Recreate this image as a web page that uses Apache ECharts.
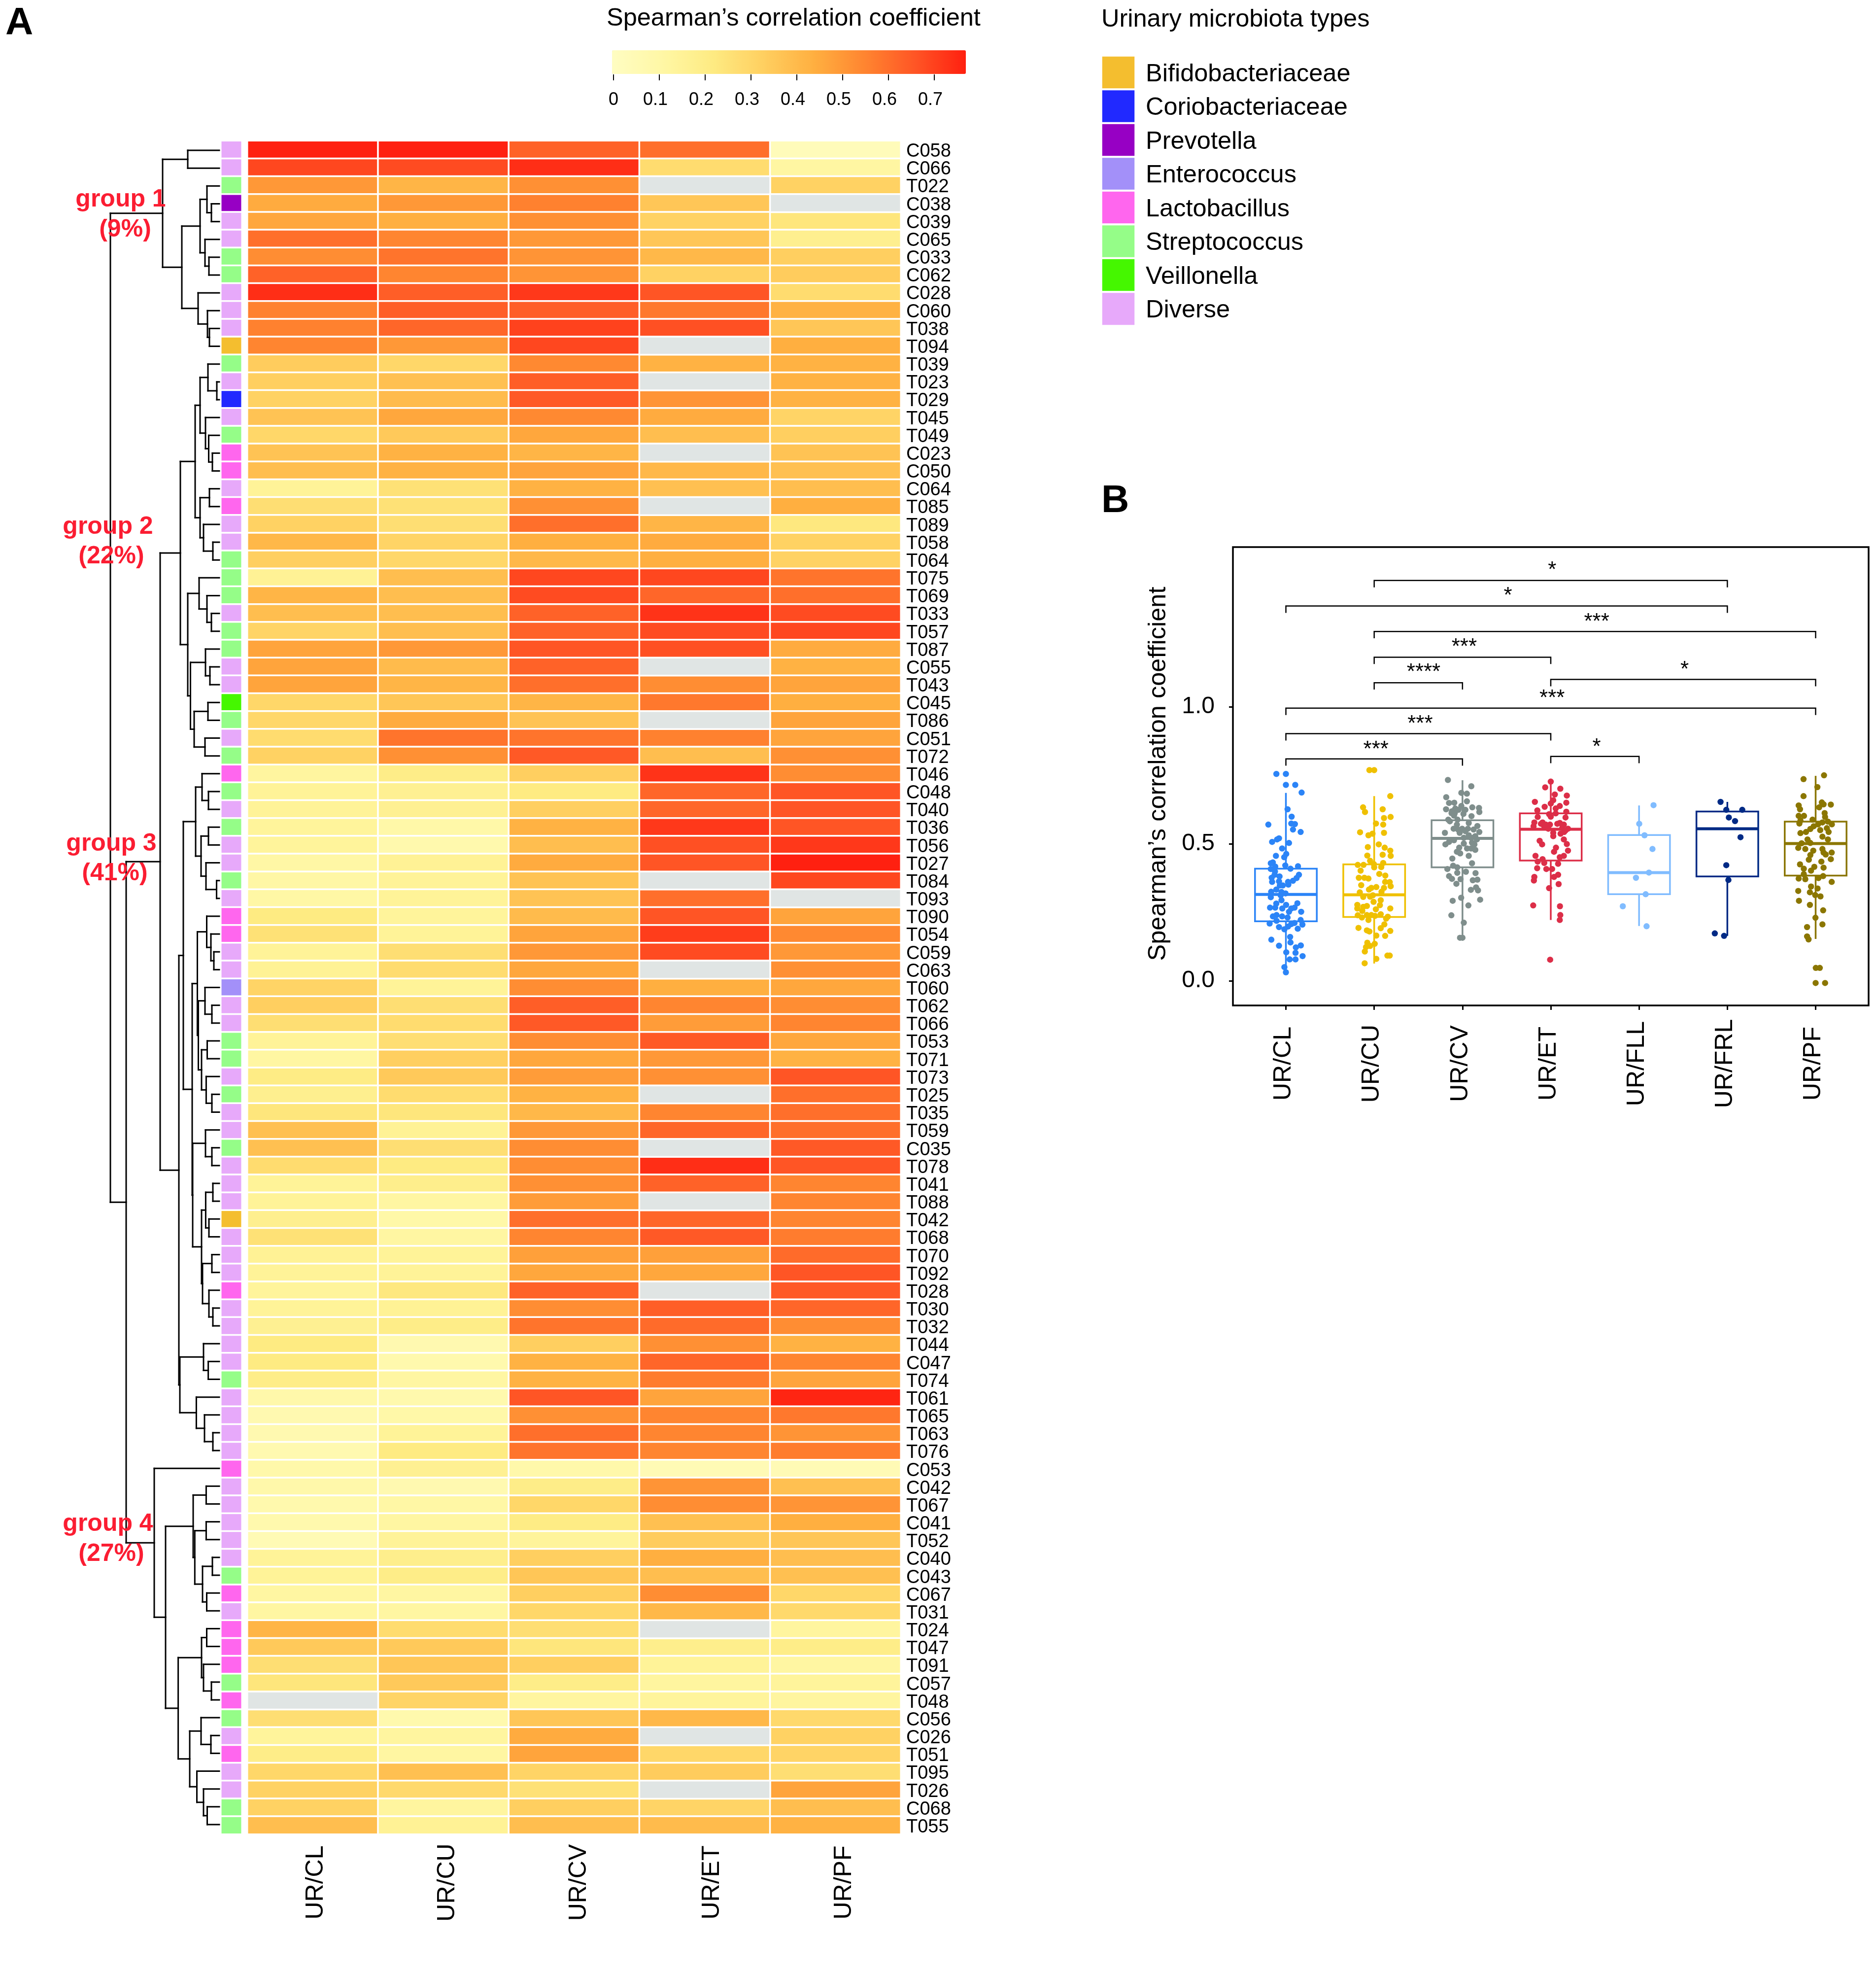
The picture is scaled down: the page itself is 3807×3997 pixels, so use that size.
<!DOCTYPE html>
<html><head><meta charset="utf-8">
<style>html,body{margin:0;padding:0;background:#fff}#c{width:3807px;height:3997px}</style>
<script src="https://cdn.jsdelivr.net/npm/echarts@6/dist/echarts.min.js"></script>
</head><body><div id="c"></div>
<script>
const rowLabels=['C058','C066','T022','C038','C039','C065','C033','C062','C028','C060','T038','T094','T039','T023','T029','T045','T049','C023','C050','C064','T085','T089','T058','T064','T075','T069','T033','T057','T087','C055','T043','C045','T086','C051','T072','T046','C048','T040','T036','T056','T027','T084','T093','T090','T054','C059','C063','T060','T062','T066','T053','T071','T073','T025','T035','T059','C035','T078','T041','T088','T042','T068','T070','T092','T028','T030','T032','T044','C047','T074','T061','T065','T063','T076','C053','C042','T067','C041','T052','C040','C043','C067','T031','T024','T047','T091','C057','T048','C056','C026','T051','T095','T026','C068','T055'];
const heatColumns=['UR/CL','UR/CU','UR/CV','UR/ET','UR/PF'];
const urCL=[.77,.69,.50,.45,.46,.60,.53,.63,.74,.56,.56,.55,.34,.33,.32,.37,.30,.37,.39,.15,.27,.32,.41,.33,.16,.42,.39,.31,.47,.47,.47,.30,.30,.28,.32,.13,.15,.15,.14,.14,.11,.11,.11,.22,.26,.15,.16,.31,.33,.27,.15,.12,.21,.18,.24,.38,.38,.28,.15,.15,.18,.26,.16,.15,.14,.15,.17,.22,.22,.20,.09,.07,.07,.07,.09,.09,.08,.08,.05,.15,.15,.12,.12,.42,.35,.27,.24,null,.27,.14,.20,.30,.32,.32,.39];
const urCU=[.77,.68,.42,.50,.44,.55,.59,.55,.64,.64,.62,.50,.30,.38,.40,.46,.35,.43,.43,.26,.26,.27,.31,.30,.39,.39,.39,.39,.50,.40,.42,.36,.45,.59,.52,.20,.17,.17,.10,.08,.16,.15,.15,.14,.15,.27,.28,.15,.27,.28,.27,.33,.35,.28,.24,.16,.27,.22,.19,.12,.10,.12,.15,.15,.23,.16,.20,.07,.08,.12,.08,.10,.15,.22,.17,.07,.11,.12,.15,.19,.20,.12,.12,.28,.35,.36,.35,.31,.08,.13,.12,.38,.29,.13,.16];
const urCV=[.63,.74,.52,.56,.52,.50,.51,.51,.72,.64,.70,.69,.54,.64,.65,.54,.46,.42,.47,.43,.52,.60,.44,.41,.69,.68,.63,.63,.66,.63,.60,.42,.37,.59,.65,.33,.22,.33,.43,.39,.45,.37,.37,.40,.47,.50,.46,.53,.64,.65,.53,.46,.49,.43,.41,.50,.53,.53,.52,.49,.60,.55,.48,.46,.63,.53,.59,.33,.43,.43,.66,.52,.60,.59,.09,.20,.30,.21,.14,.33,.36,.33,.30,.27,.24,.33,.20,.13,.36,.45,.47,.31,.26,.33,.39];
const urET=[.60,.28,null,.36,.32,.36,.41,.32,.66,.58,.67,null,.43,null,.51,.45,.39,null,.41,.38,null,.42,.45,.44,.69,.62,.73,.68,.67,null,.53,.58,null,.56,.39,.73,.62,.62,.72,.67,.66,null,.60,.66,.71,.68,null,.44,.55,.49,.65,.50,.52,null,.55,.62,null,.74,.63,null,.62,.65,.48,.46,null,.64,.61,.52,.62,.57,.47,.55,.55,.55,.05,.51,.53,.38,.34,.44,.39,.53,.41,null,.19,.15,.13,.14,.41,null,.30,.34,null,.31,.40];
const urPF=[.03,.12,.32,null,.24,.18,.33,.34,.28,.43,.36,.44,.43,.43,.43,.31,.33,.37,.38,.39,.44,.23,.32,.32,.59,.60,.68,.69,.45,.43,.47,.44,.47,.47,.52,.53,.66,.66,.66,.72,.77,.69,null,.47,.54,.50,.52,.46,.53,.55,.46,.43,.66,.60,.60,.60,.65,.66,.55,.55,.55,.57,.61,.66,.65,.62,.53,.43,.55,.47,.76,.58,.51,.57,.05,.38,.51,.44,.36,.39,.38,.30,.29,.13,.20,.12,.14,.13,.29,.32,.31,.27,.47,.39,.43];
const typeNames=['Bifidobacteriaceae','Coriobacteriaceae','Prevotella','Enterococcus','Lactobacillus','Streptococcus','Veillonella','Diverse'];
const typeColors=['#F4BE2F','#2129FF','#9700C4','#A390F9','#FF66EE','#95FD88','#45F700','#E7A9FA'];
const rowTypes=[7,7,5,2,7,7,5,5,7,7,7,0,5,7,1,7,5,4,4,7,4,7,7,5,5,5,7,5,5,7,7,6,5,7,5,4,5,7,5,7,7,5,7,4,4,7,7,3,7,7,5,5,7,5,7,7,5,7,7,7,0,7,7,7,4,7,7,7,7,5,7,7,7,7,4,7,7,7,7,7,5,4,7,4,4,4,5,4,5,7,4,7,7,5,5];
const heatRamp=['#FFFDC2','#FFF7A5','#FEEB82','#FFCF60','#FFAF40','#FF8530','#FF5525','#FF2010'];
const naColor='#E0E5E4';

// dendrogram merges: [height, left, right], L is a leaf, leaves run in row order
const L=0;
const clusterG1=[115,[64,L,L],[76,[39,[25,L,[16,L,L]],[29,L,[21,L,L]]],[43,L,[24,L,[20,L,L]]]]];
const clusterG2=[79,[49,[39,[23,L,[5,L,L]],[28,L,[21.5,L,[14,L,L]]]],[39,[20,L,L],[32,L,[13,L,L]]]],[64,[41,L,[25,L,[16,L,L]]],[58.5,[28,L,[19,L,L]],[51,[23,L,L],[29,L,L]]]]];
const clusterG3a=[48,[35,L,[22,L,L]],[37,[22,L,L],[27,L,[5.5,L,L]]]];
const clusterG3b=[44.5,[25.5,L,[17,L,[11,L,L]]],[42.5,[29,L,[15,L,L]],[36,[24.5,L,L],[26.6,L,[15,L,L]]]]];
const clusterG3c=[54,[28,L,[15,L,L]],[36,[27.6,[13,L,L],[21,L,L]],[34,[15,L,L],[21,L,[13,L,L]]]]];
const clusterG3d=[80,[32,L,[22.4,L,L]],[46.6,L,[30,L,[13,L,L]]]];
const clusterG3=[82,[73,clusterG3a,[55,clusterG3b,clusterG3c]],clusterG3d];
const clusterG4=[132,L,[109,[53,[26.6,L,L],[49.7,[26.6,L,L],[34,[14,L,L],[25.5,L,L]]]],[83.4,[36,[25.5,L,L],[32,L,[16,L,L]]],[60,[37,L,[17,L,L]],[45.5,L,[32,L,[24.5,L,L]]]]]]];
const clusterRoot=[221,clusterG1,[189,[120,clusterG2,clusterG3],clusterG4]];

// panel B
const boxCategories=['UR/CL','UR/CU','UR/CV','UR/ET','UR/FLL','UR/FRL','UR/PF'];
const boxColors=['#2B84F7','#EFC000','#7F8E8C','#DC2E48','#80BCFF','#002A85','#8B7600'];
// low, q1, median, q3, high
const boxStats=[[.03,.217,.315,.409,.686],[.063,.233,.314,.425,.674],[.151,.414,.52,.586,.732],[.222,.439,.553,.611,.73],[.2,.316,.395,.532,.64],[.164,.381,.555,.618,.653],[.153,.384,.501,.581,.748]];
const ptsCL=[[-.108,.755],[0,.755],[0,.715],[.106,.715],[.178,.687],[.019,.626],[.065,.599],[-.199,.570],[.061,.574],[.102,.572],[.080,.552],[.167,.543],[-.078,.520],[-.100,.516],[-.156,.507],[.035,.503],[-.043,.483],[.004,.463],[-.113,.456],[-.019,.451],[-.171,.429],[-.148,.432],[-.007,.421],[.137,.418],[.052,.409],[-.121,.417],[-.171,.408],[-.124,.399],[-.128,.387],[-.161,.376],[-.072,.381],[-.156,.361],[.148,.387],[.121,.375],[.080,.365],[.024,.361],[.028,.351],[-.035,.348],[-.078,.363],[-.069,.348],[-.109,.333],[-.167,.325],[-.171,.305],[-.050,.324],[-.004,.319],[-.059,.312],[-.050,.294],[-.109,.282],[-.121,.267],[.002,.277],[-.041,.264],[-.180,.267],[.130,.283],[.098,.267],[.061,.264],[.035,.252],[.173,.252],[-.147,.235],[-.106,.240],[-.043,.235],[.019,.231],[-.106,.219],[-.184,.209],[.167,.222],[.187,.205],[.098,.211],[.061,.207],[.024,.198],[-.078,.196],[-.017,.188],[.134,.190],[.048,.160],[-.165,.150],[.052,.140],[-.078,.128],[.169,.129],[.113,.122],[.004,.104],[.109,.102],[.043,.078],[.109,.078],[.189,.090],[-.017,.050],[0,.031]];
const ptsCU=[[-.054,.769],[0,.769],[.182,.674],[-.126,.633],[-.104,.616],[.096,.626],[.111,.594],[.186,.598],[.020,.574],[.102,.570],[-.160,.542],[.111,.540],[-.019,.537],[-.065,.531],[.052,.498],[-.072,.488],[.119,.486],[.182,.475],[-.078,.457],[.096,.460],[.187,.456],[-.046,.438],[-.186,.423],[-.121,.423],[-.004,.426],[.102,.430],[.080,.415],[0,.414],[-.154,.402],[.058,.390],[.126,.384],[-.174,.376],[-.111,.376],[-.065,.373],[.124,.361],[.176,.360],[-.147,.349],[.024,.342],[.187,.345],[-.032,.339],[-.059,.333],[.111,.339],[.083,.325],[-.163,.323],[-.124,.306],[-.046,.307],[-.015,.312],[.074,.294],[-.007,.288],[.065,.276],[-.191,.277],[-.191,.264],[-.124,.270],[-.083,.273],[-.135,.255],[.019,.261],[.182,.264],[.074,.243],[-.186,.239],[-.139,.231],[-.083,.240],[-.032,.240],[-.065,.222],[.009,.237],[.154,.234],[.135,.227],[.115,.206],[-.178,.193],[.074,.192],[-.083,.184],[-.054,.180],[.182,.182],[.024,.165],[.124,.164],[-.078,.139],[.006,.135],[-.046,.127],[-.093,.123],[-.106,.107],[.024,.080],[.150,.092],[.176,.092],[-.108,.064]];
const ptsCV=[[-.165,.733],[.100,.710],[-.013,.686],[.050,.683],[-.184,.670],[.050,.655],[-.152,.649],[-.093,.650],[-.013,.638],[.111,.633],[.187,.631],[.191,.616],[-.186,.626],[-.119,.619],[-.082,.629],[-.045,.624],[.033,.624],[.011,.609],[-.096,.603],[.102,.601],[-.161,.588],[-.056,.588],[-.143,.582],[.071,.576],[-.063,.570],[.169,.565],[-.100,.555],[-.004,.555],[.061,.555],[-.032,.540],[-.199,.540],[.126,.552],[.191,.543],[.071,.531],[.145,.528],[-.096,.513],[-.152,.507],[-.193,.498],[.015,.501],[.163,.516],[.108,.504],[-.037,.486],[.052,.483],[.145,.478],[.098,.483],[-.063,.471],[-.026,.465],[.071,.456],[-.115,.446],[.108,.429],[-.106,.420],[-.059,.414],[-.171,.408],[-.059,.394],[.039,.398],[.148,.393],[-.152,.382],[-.119,.372],[.117,.367],[.169,.369],[-.022,.371],[-.069,.354],[.154,.341],[.095,.332],[.176,.330],[-.015,.303],[-.111,.292],[.200,.296],[.067,.275],[-.126,.239],[.015,.212],[-.028,.157],[0,.157],[-.087,.612],[-.124,.612],[-.050,.552],[.033,.546],[.098,.522],[.015,.522],[.135,.498]];
const ptsET=[[0,.727],[-.063,.706],[.108,.701],[.046,.680],[.182,.676],[.028,.659],[-.180,.653],[.176,.650],[0,.647],[-.069,.635],[.102,.638],[.056,.629],[-.152,.622],[.176,.617],[-.019,.608],[.056,.611],[.167,.596],[-.148,.598],[0,.599],[-.186,.578],[-.093,.578],[.102,.576],[-.195,.564],[-.074,.564],[-.009,.570],[.148,.570],[-.028,.555],[.195,.555],[.028,.540],[.111,.537],[.152,.543],[.028,.528],[-.126,.511],[-.098,.498],[.148,.516],[.182,.499],[.059,.486],[.037,.471],[.195,.475],[-.173,.456],[.102,.451],[.148,.456],[-.093,.444],[-.148,.435],[-.074,.430],[.083,.427],[-.154,.411],[-.050,.408],[.015,.408],[.083,.387],[.037,.379],[-.186,.379],[-.191,.366],[.089,.353],[-.019,.338],[-.199,.275],[.104,.272],[.108,.240],[.102,.222],[-.007,.077],[-.111,.573],[-.056,.570],[.130,.558],[.167,.549],[.074,.573]];
const ptsFLL=[[.164,.641],[.002,.573],[.062,.531],[.152,.481],[.112,.395],[-.035,.376],[.075,.316],[-.184,.272],[.085,.199]];
const ptsFRL=[[-.077,.653],[-.012,.624],[.169,.624],[.017,.596],[.087,.583],[.149,.524],[-.012,.422],[.012,.368],[-.142,.173],[-.037,.164]];
const ptsPF=[[.095,.750],[-.137,.736],[.020,.707],[-.137,.674],[-.192,.640],[-.177,.626],[.070,.651],[.090,.644],[.172,.643],[.040,.633],[.102,.612],[-.192,.602],[-.132,.602],[.107,.598],[-.035,.588],[-.172,.585],[-.184,.574],[.077,.578],[.139,.581],[.184,.571],[.027,.571],[-.022,.564],[-.060,.554],[-.109,.543],[-.172,.539],[.052,.550],[.127,.557],[.147,.543],[.077,.526],[.139,.516],[-.092,.516],[-.060,.503],[-.159,.502],[-.197,.485],[-.117,.481],[-.027,.475],[.077,.481],[.182,.468],[.090,.468],[-.060,.459],[-.077,.442],[.114,.461],[.172,.444],[.065,.435],[-.177,.425],[.090,.413],[-.015,.416],[-.052,.402],[-.134,.409],[-.134,.389],[-.117,.371],[-.192,.373],[.032,.375],[.085,.382],[.182,.361],[-.052,.344],[.022,.337],[-.197,.328],[-.065,.323],[-.005,.313],[.055,.308],[-.189,.292],[-.065,.277],[.085,.257],[-.002,.230],[.077,.206],[-.097,.196],[-.097,.162],[-.080,.151],[.002,.047],[.047,.047],[0,-.008],[.107,-.008]];
const boxPoints=[ptsCL,ptsCU,ptsCV,ptsET,ptsFLL,ptsFRL,ptsPF];
// significance brackets: from, to, height, label, label x, label y
const brackets=[[2,6,1.461,'*',4.015,1.513],[1,6,1.368,'*',3.515,1.419],[2,7,1.275,'***',4.52,1.325],[2,4,1.181,'***',3.02,1.233],[2,3,1.088,'****',2.56,1.140],[4,7,1.100,'*',5.515,1.149],[1,7,.995,'***',4.015,1.046],[1,4,.902,'***',2.52,.952],[1,3,.81,'***',2.02,.859],[4,5,.819,'*',4.52,.868]];
const boxTicks=[0,.5,1];

const FONT='"Liberation Sans"';
const heatCols=[urCL,urCU,urCV,urET,urPF];
const heatData=[],naData=[];
heatCols.forEach((col,x)=>col.forEach((v,y)=>{ if(v===null) naData.push([x,y,8]); else heatData.push([x,y,v]); }));
const stripData=rowTypes.map((t,y)=>[0,y,t]);
const swatchData=typeNames.map((n,y)=>[0,y,y]);
const dendroSegs=[];let leafNo=0;
(function walk(n){ if(n===L) return {h:0,y:leafNo++};
  const a=walk(n[1]),b=walk(n[2]),h=n[0];
  dendroSegs.push([h,a.y,h,b.y],[a.h,a.y,h,a.y],[b.h,b.y,h,b.y]);
  return {h,y:(a.y+b.y)/2}; })(clusterRoot);

function hiddenValue(o){return Object.assign({type:'value',show:false,splitLine:{show:false}},o);}
const labelRich=(size,padding)=>({formatter:v=>'{a|'+v+'}',rich:{a:{fontSize:size,fontFamily:FONT,color:'#000',padding}}});
const colRich=s=>({fontSize:50,fontFamily:FONT,color:'#000',padding:[s,0,0,0]});
const grids=[
 {left:502,top:285.5,width:1326,height:3436},
 {left:448,top:285.5,width:43,height:3436},
 {left:189,top:287,width:256,height:3433},
 {left:2235,top:113,width:69,height:548},
 {left:1245,top:150,width:651,height:1},
 {left:2502,top:1110,width:1290,height:930,show:true,borderColor:'#000',borderWidth:3.5,backgroundColor:'transparent'}
];
const xAxes=[
 {type:'category',gridIndex:0,data:heatColumns,position:'bottom',axisLine:{show:false},axisTick:{show:false},splitLine:{show:false},
  axisLabel:{rotate:90,align:'center',margin:98,formatter:(v,i)=>'{c'+i+'|'+v+'}',
   rich:{c0:colRich(14),c1:colRich(16),c2:colRich(20),c3:colRich(30),c4:colRich(36)}}},
 {type:'category',gridIndex:1,data:['type'],show:false},
 hiddenValue({gridIndex:2,min:0,max:256,inverse:true}),
 {type:'category',gridIndex:3,data:['type'],show:false},
 {type:'value',gridIndex:4,min:0,max:.7,interval:.1,position:'bottom',axisLine:{show:false,onZero:false},splitLine:{show:false},
  axisTick:{show:true,length:12,lineStyle:{color:'#000',width:2}},
  axisLabel:{margin:34,fontSize:36,fontFamily:FONT,color:'#000',padding:[0,16,0,0],
   formatter:v=>v===0?'{z|0}':String(+v.toFixed(1)),rich:{z:{padding:[0,0,0,16],fontSize:36,fontFamily:FONT,color:'#000'}}}},
 {type:'value',gridIndex:5,min:.4,max:7.6,position:'bottom',axisLine:{show:false,onZero:false},splitLine:{show:false},
  axisTick:{show:true,length:9,customValues:[1,2,3,4,5,6,7],lineStyle:{color:'#000',width:3}},
  axisLabel:{rotate:90,align:'center',margin:118,customValues:[1,2,3,4,5,6,7],formatter:v=>'{a|'+boxCategories[Math.round(v)-1]+'}',
   rich:{a:{fontSize:50,fontFamily:FONT,color:'#000',padding:[0,0,8,0]}}}}
];
const yAxes=[
 {type:'category',gridIndex:0,data:rowLabels,inverse:true,position:'right',axisLine:{show:false},axisTick:{show:false},splitLine:{show:false},
  axisLabel:Object.assign({interval:0,margin:11},labelRich(38,[8,0,0,0]))},
 {type:'category',gridIndex:1,data:rowLabels,inverse:true,show:false},
 hiddenValue({gridIndex:2,min:-.5,max:94.5,inverse:true}),
 {type:'category',gridIndex:3,data:typeNames,inverse:true,position:'right',axisLine:{show:false},axisTick:{show:false},splitLine:{show:false},
  axisLabel:Object.assign({interval:0,margin:21},labelRich(50.5,[7,0,0,0]))},
 hiddenValue({gridIndex:4,min:0,max:1}),
 {type:'value',gridIndex:5,min:-.09,max:1.583,position:'left',axisLine:{show:false},splitLine:{show:false},
  name:'Spearman\u2019s correlation coefficient',nameLocation:'middle',nameGap:125,nameTextStyle:{fontSize:50.5,fontFamily:FONT,color:'#000',padding:[0,0,0,10]},
  axisTick:{show:true,length:8,customValues:boxTicks,lineStyle:{color:'#000',width:3}},
  axisLabel:{margin:37,fontSize:48,fontFamily:FONT,color:'#000',customValues:boxTicks,formatter:v=>v.toFixed(1)}}
];
const cell={borderColor:'#fff',borderWidth:3.5};
const blackSeg=(p,api)=>{const a=api.coord([api.value(0),api.value(1)]),b=api.coord([api.value(2),api.value(3)]);
  return {type:'line',shape:{x1:a[0],y1:a[1],x2:b[0],y2:b[1]},style:{stroke:'#000',lineWidth:3,lineCap:'square'}};};
const series=[
 {type:'heatmap',xAxisIndex:0,yAxisIndex:0,data:heatData,itemStyle:cell,progressive:0,animation:false},
 {type:'heatmap',xAxisIndex:0,yAxisIndex:0,data:naData,itemStyle:cell,progressive:0,animation:false},
 {type:'heatmap',xAxisIndex:1,yAxisIndex:1,data:stripData,itemStyle:cell,progressive:0,animation:false},
 {type:'heatmap',xAxisIndex:3,yAxisIndex:3,data:swatchData,itemStyle:{borderColor:'#fff',borderWidth:4},progressive:0,animation:false},
 {type:'custom',xAxisIndex:2,yAxisIndex:2,data:dendroSegs,encode:{x:[0,2],y:[1,3]},renderItem:blackSeg,silent:true,clip:false,animation:false},
 {type:'custom',xAxisIndex:5,yAxisIndex:5,data:boxStats.map((s,i)=>[i+1,...s]),encode:{x:0,y:[1,5]},silent:true,animation:false,
  renderItem(p,api){
    const gx=api.value(0),c=boxColors[p.dataIndex],hw=.35;
    const P=(x,y)=>api.coord([x,y]);
    const [lo,q1,md,q3,hi]=[1,2,3,4,5].map(k=>api.value(k));
    const st={stroke:c,lineWidth:3.5,fill:null};
    const ln=(a,b,w)=>({type:'line',shape:{x1:a[0],y1:a[1],x2:b[0],y2:b[1]},style:{stroke:c,lineWidth:w||3.5}});
    const tl=P(gx-hw,q3),br=P(gx+hw,q1);
    return {type:'group',children:[
      ln(P(gx,hi),P(gx,q3)),ln(P(gx,q1),P(gx,lo)),
      {type:'rect',shape:{x:tl[0],y:tl[1],width:br[0]-tl[0],height:br[1]-tl[1]},style:st},
      ln(P(gx-hw,md),P(gx+hw,md),6)]};
  }},
 ...boxPoints.map((pts,i)=>({type:'scatter',xAxisIndex:5,yAxisIndex:5,symbol:'circle',symbolSize:12.5,silent:true,animation:false,
   itemStyle:{color:boxColors[i],opacity:1},data:pts.map(d=>[i+1+d[0],d[1]])})),
 {type:'custom',xAxisIndex:5,yAxisIndex:5,data:brackets.map(b=>[b[0],b[2],b[1],b[2]]),encode:{x:[0,2],y:[1,3]},silent:true,animation:false,z:5,
  renderItem(p,api){
    const b=brackets[p.dataIndex],drop=.025;
    const A=api.coord([b[0],b[2]]),B=api.coord([b[1],b[2]]),A2=api.coord([b[0],b[2]-drop]),B2=api.coord([b[1],b[2]-drop]),T=api.coord([b[4],b[5]]);
    return {type:'group',children:[
      {type:'polyline',shape:{points:[A2,A,B,B2]},style:{stroke:'#000',lineWidth:2.5,fill:null}},
      {type:'text',style:{text:b[3],x:T[0],y:T[1]+9,align:'center',verticalAlign:'middle',font:'44px '+FONT,fill:'#000'}}]};
  }}
];
const txt=(text,x,y,size,opt)=>({type:'text',z:20,x,y,style:Object.assign({text,fontSize:size,fontFamily:FONT,fill:'#000',align:'left',verticalAlign:'middle'},opt||{})});
const red={fontWeight:'bold',fill:'#FB1D32',align:'center'};
const graphicEls=[
 txt('A',11,48,78,{fontWeight:'bold'}),
 txt('B',2235,1017,78,{fontWeight:'bold'}),
 txt('Spearman\u2019s correlation coefficient',1231,38,50.5),
 txt('Urinary microbiota types',2235,40,50.5),
 txt('group 1',245,405,50,red),txt('(9%)',254,466,50,red),
 txt('group 2',219,1069,50,red),txt('(22%)',226,1129,50,red),
 txt('group 3',226,1712,50,red),txt('(41%)',233,1772,50,red),
 txt('group 4',219,3092,50,red),txt('(27%)',226,3153,50,red)
];
const chart=echarts.init(document.getElementById('c'),null,{renderer:'canvas',width:3807,height:3997});
chart.setOption({
 animation:false,backgroundColor:'#fff',
 grid:grids,xAxis:xAxes,yAxis:yAxes,series,
 visualMap:[
  {type:'continuous',seriesIndex:0,dimension:2,min:0,max:.77,orient:'horizontal',left:1227,top:87,itemWidth:48,itemHeight:718,calculable:false,hoverLink:false,
   inRange:{color:heatRamp},text:null},
  {type:'piecewise',show:false,seriesIndex:[1,2,3],dimension:2,
   pieces:typeColors.map((c,i)=>({value:i,color:c})).concat([{value:8,color:naColor}])}
 ],
 graphic:{elements:graphicEls}
});
</script></body></html>
